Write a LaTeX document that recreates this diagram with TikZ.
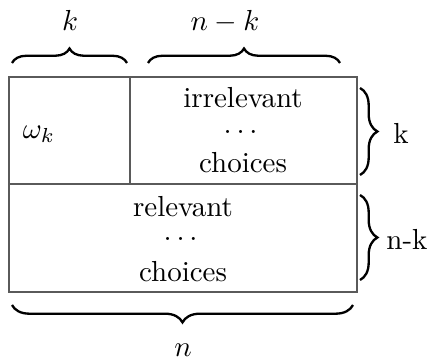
\documentclass[tikz,border=0pt]{standalone}
\usepackage{amsmath,amssymb}
\usepackage{tikz}
\usetikzlibrary{decorations.pathreplacing, calc}
\definecolor{boxgray}{RGB}{90, 90, 90}

\tikzset{
    cellline/.style={boxgray, line width=0.5pt},
    celltext/.style={inner sep=1pt},
    bracelbl/.style={decorate, decoration={brace, amplitude=#1}, thick},
    bracelbl/.default=5pt
}

\begin{document}
\begin{tikzpicture}[x=0.345pt, y=0.345pt]
    \useasboundingbox (0,0) rectangle (434,364);

    % Outer box and dividers
    \draw[cellline] (9,72) rectangle (357,287);
    \draw[cellline] (9,180) -- (357,180);
    \draw[cellline] (130,180) -- (130,287);

    % Cell contents
    \node[celltext] (omega) at (39,230) {$\omega_k$};
    \node[celltext] (irr) at (243,266) {irrelevant};
    \node[celltext] (irrdots) at (243,232) {$\dots$};
    \node[celltext] (irrch) at (243,201) {choices};
    \node[celltext] (rel) at (183,157) {relevant};
    \node[celltext] (reldots) at (183,125) {$\dots$};
    \node[celltext] (relch) at (183,92) {choices};

    % Top braces
    \draw[bracelbl] (12,301) -- (127,301);
    \draw[bracelbl] (148,301) -- (340,301);
    \node (topk) at (70,344) {$k$};
    \node (topnk) at (225,342) {$n-k$};

    % Right braces
    \draw[bracelbl=6pt] (360,276) -- (360,189);
    \draw[bracelbl=6pt] (360,169) -- (360,84);
    \node (rightk) at (401,231) {k};
    \node (rightnk) at (407,125) {n-k};

    % Bottom brace
    \draw[bracelbl=6pt] (353,59) -- (12,59);
    \node (botn) at (183,14) {$n$};
\end{tikzpicture}
\end{document}
